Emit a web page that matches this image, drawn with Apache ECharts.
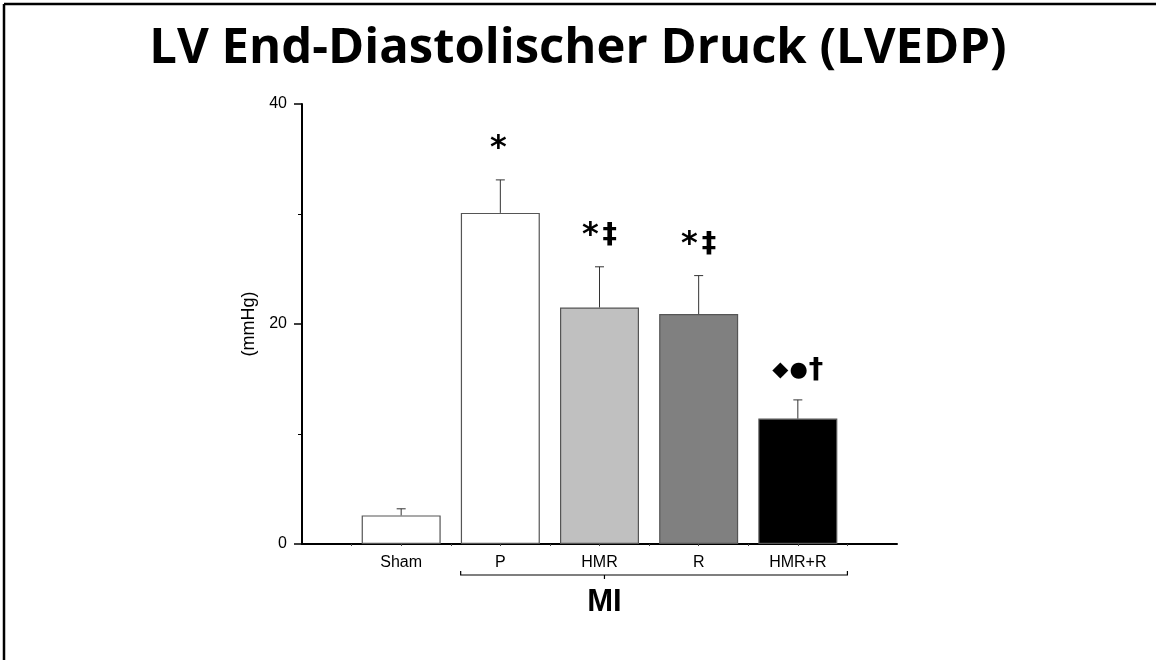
<!DOCTYPE html>
<html>
<head>
<meta charset="utf-8">
<script src="https://cdn.jsdelivr.net/npm/echarts@6/dist/echarts.min.js"></script>
<style>
html,body{margin:0;padding:0;background:#fff;}
#chart{width:1156px;height:660px;}
</style>
</head>
<body>
<div id="chart"></div>
<script>
// ---- data ----
const categories = ['Sham', 'P', 'HMR', 'R', 'HMR+R'];
const means = [2.6, 30.1, 21.5, 20.9, 11.4];
const errors = [0.6, 3.0, 3.7, 3.5, 1.7];
const annotations = ['', '*', '*‡', '*‡', '◆●†'];
const barColors = ['#ffffff', '#ffffff', '#c0c0c0', '#808080', '#000000'];
const yTicks = [0, 20, 40];
const groupLabel = 'MI';
const groupFrom = 1.6, groupTo = 5.5, groupMark = 3.05;

const chart = echarts.init(document.getElementById('chart'));

const barData = categories.map((c, i) => ({
  value: [i + 1, means[i]],
  itemStyle: { color: barColors[i] }
}));
const errData = categories.map((c, i) => [i + 1, means[i], means[i] + errors[i]]);
const annData = categories.map((c, i) => [i + 1, means[i] + errors[i]]);

function richAnnotation(txt) {
  let out = '';
  for (const ch of txt) {
    if (ch === '◆' || ch === '●') out += '{s|' + ch + '}';
    else if (ch === '*') out += '{a|' + ch + '}';
    else out += '{b|' + ch + '}';
  }
  return out;
}

chart.setOption({
  animation: false,
  backgroundColor: '#fff',
  title: {
    text: 'LV End-Diastolischer Druck (LVEDP)',
    left: 'center',
    top: 20,
    textStyle: { fontFamily: 'Open Sans', fontWeight: 'bold', fontSize: 49, color: '#000' }
  },
  grid: { left: 302, right: 259, top: 104, bottom: 116, containLabel: false },
  xAxis: {
    type: 'value', min: 0, max: 6, interval: 0.5,
    axisLine: { show: true, lineStyle: { color: '#000', width: 2 } },
    axisTick: { show: true, length: 2, lineStyle: { color: '#444', width: 1 } },
    axisLabel: {
      margin: 11, fontFamily: 'Liberation Sans', fontSize: 16, color: '#000',
      formatter: v => (Number.isInteger(v) && v >= 1 && v <= categories.length) ? categories[v - 1] : '',
      showMinLabel: false, showMaxLabel: false
    },
    splitLine: { show: false }
  },
  yAxis: {
    type: 'value', min: 0, max: 40, interval: 20,
    name: '(mmHg)', nameLocation: 'middle', nameGap: 33,
    nameTextStyle: { fontFamily: 'Liberation Sans', fontSize: 18, color: '#000' },
    axisLine: { show: true, lineStyle: { color: '#000', width: 2 } },
    axisTick: { show: true, length: 8, lineStyle: { color: '#000', width: 1.5 } },
    minorTick: { show: true, splitNumber: 2, length: 4, lineStyle: { color: '#000', width: 1 } },
    axisLabel: { margin: 15, fontFamily: 'Liberation Sans', fontSize: 16, color: '#000',
      formatter: v => yTicks.includes(v) ? String(v) : '' },
    splitLine: { show: false }
  },
  series: [
    {
      type: 'bar',
      data: barData,
      barWidth: 79,
      itemStyle: { borderColor: '#555', borderWidth: 1.2 },
      z: 2
    },
    {
      type: 'custom',
      data: errData,
      z: 3,
      renderItem: (params, api) => {
        const x = api.value(0);
        const p0 = api.coord([x, api.value(1)]);
        const p1 = api.coord([x, api.value(2)]);
        return {
          type: 'group',
          children: [
            { type: 'line', shape: { x1: p0[0], y1: p0[1], x2: p1[0], y2: p1[1] }, style: { stroke: '#333', lineWidth: 1 } },
            { type: 'line', shape: { x1: p1[0] - 4.5, y1: p1[1], x2: p1[0] + 4.5, y2: p1[1] }, style: { stroke: '#333', lineWidth: 1 } }
          ]
        };
      }
    },
    {
      type: 'custom',
      data: annData,
      z: 4,
      renderItem: (params, api) => {
        const i = params.dataIndex;
        const p = api.coord([api.value(0), api.value(1)]);
        const txt = annotations[i];
        if (!txt) return null;
        return {
          type: 'text',
          x: p[0],
          y: p[1] - 15,
          style: {
            text: richAnnotation(txt),
            align: 'center',
            verticalAlign: 'bottom',
            rich: {
              a: { fontFamily: 'DejaVu Sans', fontWeight: 'bold', fontSize: 32, fill: '#000', padding: [0, 4, 0, 0] },
              b: { fontFamily: 'DejaVu Sans', fontWeight: 'bold', fontSize: 29, fill: '#000' },
              s: { fontFamily: 'DejaVu Sans', fontSize: 21, fill: '#000', padding: [0, 1, 0, 0] }
            }
          }
        };
      }
    },
    {
      type: 'custom',
      data: [[groupFrom, groupTo, groupMark]],
      z: 4,
      silent: true,
      renderItem: (params, api) => {
        const a = api.coord([api.value(0), 0]);
        const b = api.coord([api.value(1), 0]);
        const m = api.coord([api.value(2), 0]);
        const y = a[1] + 31;
        return {
          type: 'group',
          children: [
            { type: 'polyline', shape: { points: [[a[0], y - 4], [a[0], y], [b[0], y], [b[0], y - 4]] }, style: { stroke: '#000', lineWidth: 1.2, fill: null } },
            { type: 'line', shape: { x1: m[0], y1: y, x2: m[0], y2: y + 4 }, style: { stroke: '#000', lineWidth: 1.2 } },
            { type: 'text', x: m[0], y: y + 12, style: { text: groupLabel, fontFamily: 'Liberation Sans', fontWeight: 'bold', fontSize: 31, fill: '#000', align: 'center', verticalAlign: 'top' } }
          ]
        };
      }
    }
  ],
  graphic: [
    { type: 'line', shape: { x1: 4, y1: 4, x2: 1156, y2: 4 }, style: { stroke: '#000', lineWidth: 2.5 } },
    { type: 'line', shape: { x1: 4, y1: 4, x2: 4, y2: 660 }, style: { stroke: '#000', lineWidth: 2.5 } }
  ]
});
</script>
</body>
</html>
